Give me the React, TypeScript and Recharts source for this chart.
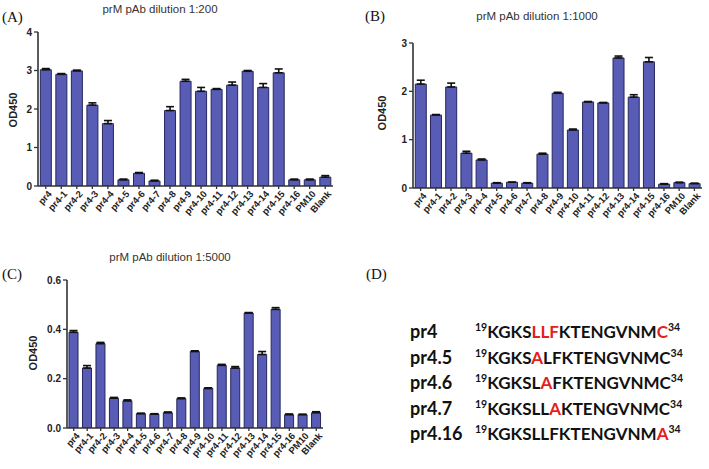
import React from "react";
import { BarChart, Bar, XAxis, YAxis, ErrorBar } from "recharts";

// ─── Data ───────────────────────────────────────────────────

const CATEGORIES = [
  "pr4", "pr4-1", "pr4-2", "pr4-3", "pr4-4", "pr4-5", "pr4-6", "pr4-7", "pr4-8", "pr4-9",
  "pr4-10", "pr4-11", "pr4-12", "pr4-13", "pr4-14", "pr4-15", "pr4-16", "PM10", "Blank",
];

const OD_1_200 = [3.02, 2.9, 2.99, 2.1, 1.62, 0.16, 0.33, 0.13, 1.96, 2.72, 2.46, 2.51, 2.62, 2.98, 2.56, 2.94, 0.16, 0.16, 0.23];
const SD_1_200 = [0.03, 0.02, 0.02, 0.06, 0.08, 0.02, 0.02, 0.02, 0.1, 0.05, 0.1, 0.02, 0.08, 0.02, 0.1, 0.1, 0.02, 0.02, 0.04];

const OD_1_1000 = [2.15, 1.51, 2.09, 0.72, 0.58, 0.1, 0.12, 0.1, 0.7, 1.96, 1.2, 1.78, 1.76, 2.69, 1.88, 2.61, 0.08, 0.11, 0.09];
const SD_1_1000 = [0.08, 0.01, 0.08, 0.04, 0.02, 0.01, 0.0, 0.01, 0.02, 0.02, 0.02, 0.01, 0.01, 0.04, 0.05, 0.09, 0.01, 0.01, 0.01];

const OD_1_5000 = [0.388, 0.243, 0.342, 0.121, 0.11, 0.058, 0.056, 0.062, 0.119, 0.31, 0.16, 0.254, 0.243, 0.466, 0.298, 0.481, 0.054, 0.054, 0.062];
const SD_1_5000 = [0.007, 0.01, 0.005, 0.003, 0.004, 0.002, 0.002, 0.003, 0.003, 0.003, 0.003, 0.004, 0.006, 0.002, 0.012, 0.007, 0.003, 0.002, 0.004];

const TICKS_1_200 = [0, 1, 2, 3, 4];
const TICKS_1_1000 = [0, 1, 2, 3];
const TICKS_1_5000 = [0, 0.2, 0.4, 0.6];

const SEQ_ROWS = [
  { name: "pr4", parts: [["KGKS", false], ["LLF", true], ["KTENGVNM", false], ["C", true]] },
  { name: "pr4.5", parts: [["KGKS", false], ["A", true], ["LFKTENGVNMC", false]] },
  { name: "pr4.6", parts: [["KGKSL", false], ["A", true], ["FKTENGVNMC", false]] },
  { name: "pr4.7", parts: [["KGKSLL", false], ["A", true], ["KTENGVNMC", false]] },
  { name: "pr4.16", parts: [["KGKSLLFKTENGVNM", false], ["A", true]] },
] as const;

// ─── Styles ─────────────────────────────────────────────────

const SANS = "'Liberation Sans', Arial, sans-serif";
const BAR_FILL = "#585cb4";
const BAR_STROKE = "#25275e";
const AXIS_LINE = { stroke: "#333", strokeWidth: 1.6 } as const;
const TICK_LINE = { stroke: "#333", strokeWidth: 1.3 } as const;
const Y_TICK = { fontSize: 10, fontWeight: 700, fill: "#222", fontFamily: SANS } as const;

// angled category labels, anchored at the tick end
function AngledTick(props: any) {
  const { x, y, payload } = props;
  return (
    <g transform={`translate(${x},${y})`}>
      <text
        x={0}
        y={0}
        dy={7}
        dx={2}
        transform="rotate(-48)"
        textAnchor="end"
        fontSize={9.5}
        fontWeight={700}
        fill="#222"
        fontFamily={SANS}
      >
        {payload.value}
      </text>
    </g>
  );
}

// ─── Panel chart ────────────────────────────────────────────

interface PanelProps {
  left: number;
  top: number;
  width: number;
  height: number;
  yWidth: number;
  xHeight: number;
  marginTop: number;
  marginRight: number;
  values: number[];
  errors: number[];
  ticks: number[];
  fmt?: (v: number) => string;
}

function Panel({ left, top, width, height, yWidth, xHeight, marginTop, marginRight, values, errors, ticks, fmt }: PanelProps) {
  const data = CATEGORIES.map((name, i) => ({ name, value: values[i], err: [0, errors[i]] }));
  return (
    <div style={{ position: "absolute", left, top }}>
      <BarChart
        width={width}
        height={height}
        data={data}
        margin={{ top: marginTop, right: marginRight, left: 0, bottom: 0 }}
        barCategoryGap="15%"
      >
        <XAxis
          dataKey="name"
          interval={0}
          height={xHeight}
          tick={<AngledTick />}
          tickSize={3}
          axisLine={AXIS_LINE}
          tickLine={TICK_LINE}
        />
        <YAxis
          width={yWidth}
          domain={[0, ticks[ticks.length - 1]]}
          ticks={ticks}
          tick={Y_TICK}
          tickSize={4}
          tickFormatter={fmt}
          axisLine={AXIS_LINE}
          tickLine={TICK_LINE}
          allowDataOverflow
        />
        <Bar dataKey="value" fill={BAR_FILL} stroke={BAR_STROKE} strokeWidth={1} isAnimationActive={false}>
          <ErrorBar dataKey="err" width={4} stroke="#111" strokeWidth={1.6} direction="y" />
        </Bar>
      </BarChart>
    </div>
  );
}

function Txt({ x, y, children, style }: { x: number; y: number; children: React.ReactNode; style?: React.CSSProperties }) {
  return (
    <div style={{ position: "absolute", left: x, top: y, whiteSpace: "nowrap", lineHeight: 1, ...style }}>
      {children}
    </div>
  );
}

const PANEL_LABEL: React.CSSProperties = { fontFamily: "'Liberation Serif', serif", fontSize: 15, color: "#111" };
const TITLE: React.CSSProperties = { fontFamily: SANS, fontSize: 11.5, color: "#333", transform: "translateX(-50%)" };
const Y_LABEL: React.CSSProperties = {
  fontFamily: SANS, fontSize: 11, fontWeight: 700, color: "#222",
  transform: "translate(-50%, -50%) rotate(-90deg)",
};
const SEQ_FONT: React.CSSProperties = { fontFamily: "Lato, sans-serif", fontWeight: 700, color: "#111" };

export default function App() {
  return (
    <div style={{ position: "absolute", left: 0, top: 0, width: 709, height: 469, background: "#fff", overflow: "hidden" }}>
      {/* (A) */}
      <Txt x={2} y={10} style={PANEL_LABEL}>(A)</Txt>
      <Txt x={160} y={4} style={TITLE}>prM pAb dilution 1:200</Txt>
      <Txt x={13} y={110} style={Y_LABEL}>OD450</Txt>
      <Panel left={0} top={0} width={345} height={225} yWidth={38} xHeight={39} marginTop={32} marginRight={12}
        values={OD_1_200} errors={SD_1_200} ticks={TICKS_1_200} />

      {/* (B) */}
      <Txt x={365} y={9} style={PANEL_LABEL}>(B)</Txt>
      <Txt x={537} y={11} style={TITLE}>prM pAb dilution 1:1000</Txt>
      <Txt x={382} y={113} style={Y_LABEL}>OD450</Txt>
      <Panel left={375} top={0} width={334} height={225} yWidth={38} xHeight={37} marginTop={43} marginRight={7}
        values={OD_1_1000} errors={SD_1_1000} ticks={TICKS_1_1000} />

      {/* (C) */}
      <Txt x={2} y={267} style={PANEL_LABEL}>(C)</Txt>
      <Txt x={170} y={252} style={TITLE}>prM pAb dilution 1:5000</Txt>
      <Txt x={33} y={353} style={Y_LABEL}>OD450</Txt>
      <Panel left={0} top={230} width={340} height={239} yWidth={67} xHeight={41} marginTop={50} marginRight={17}
        values={OD_1_5000} errors={SD_1_5000} ticks={TICKS_1_5000} fmt={(v) => v.toFixed(1)} />

      {/* (D) */}
      <Txt x={366} y={267} style={PANEL_LABEL}>(D)</Txt>
      {SEQ_ROWS.map((row, i) => (
        <React.Fragment key={row.name}>
          <Txt x={410} y={322 + i * 25.5} style={{ ...SEQ_FONT, fontSize: 18 }}>
            {row.name}
          </Txt>
          <Txt x={475} y={322 + i * 25.5} style={{ ...SEQ_FONT, fontSize: 17 }}>
            <sup style={{ fontSize: 10.5, verticalAlign: "7px" }}>19</sup>
            {row.parts.map(([s, red], j) => (
              <span key={j} style={{ color: red ? "#e4201b" : "#111" }}>{s}</span>
            ))}
            <sup style={{ fontSize: 10.5, verticalAlign: "7px" }}>34</sup>
          </Txt>
        </React.Fragment>
      ))}
    </div>
  );
}
